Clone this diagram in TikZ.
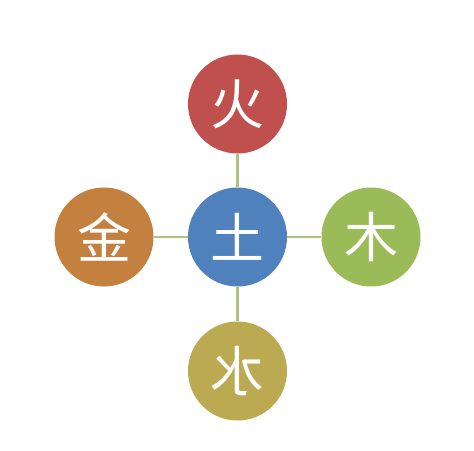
\documentclass[tikz,border=0pt]{standalone}
\usepackage{fontspec}
\newfontfamily\cjk{Noto Sans CJK SC}
\definecolor{huored}{HTML}{C0504D}
\definecolor{tublue}{HTML}{4F81BD}
\definecolor{mugreen}{HTML}{9BBB59}
\definecolor{jinbrown}{HTML}{C4803F}
\definecolor{shuiolive}{HTML}{BBAA52}
\definecolor{linkgreen}{HTML}{A8C47E}
\tikzset{
    element/.style={circle, minimum size=99pt, inner sep=0pt, text=white,
        font=\cjk\fontsize{54}{54}\selectfont},
    link/.style={linkgreen, line width=2.2pt}
}
\begin{document}
\begin{tikzpicture}[x=1pt, y=-1pt]
    % Page frame (reference size)
    \useasboundingbox[fill=white] (0,0) rectangle (474,450);

    % --- Centre: earth ---
    \node[element, fill=tublue] (tu) at (237.5,237) {土};

    % --- Four outer elements ---
    \node[element, fill=huored] (huo) at (237.5,104) {火};
    \node[element, fill=mugreen] (mu) at (371,237) {木};
    \node[element, fill=shuiolive, xscale=-1] (shui) at (237.5,371) {水};
    \node[element, fill=jinbrown] (jin) at (104,237) {金};

    % --- Connectors ---
    \draw[link] (tu) -- (huo);
    \draw[link] (tu) -- (mu);
    \draw[link] (tu) -- (shui);
    \draw[link] (tu) -- (jin);
\end{tikzpicture}
\end{document}
